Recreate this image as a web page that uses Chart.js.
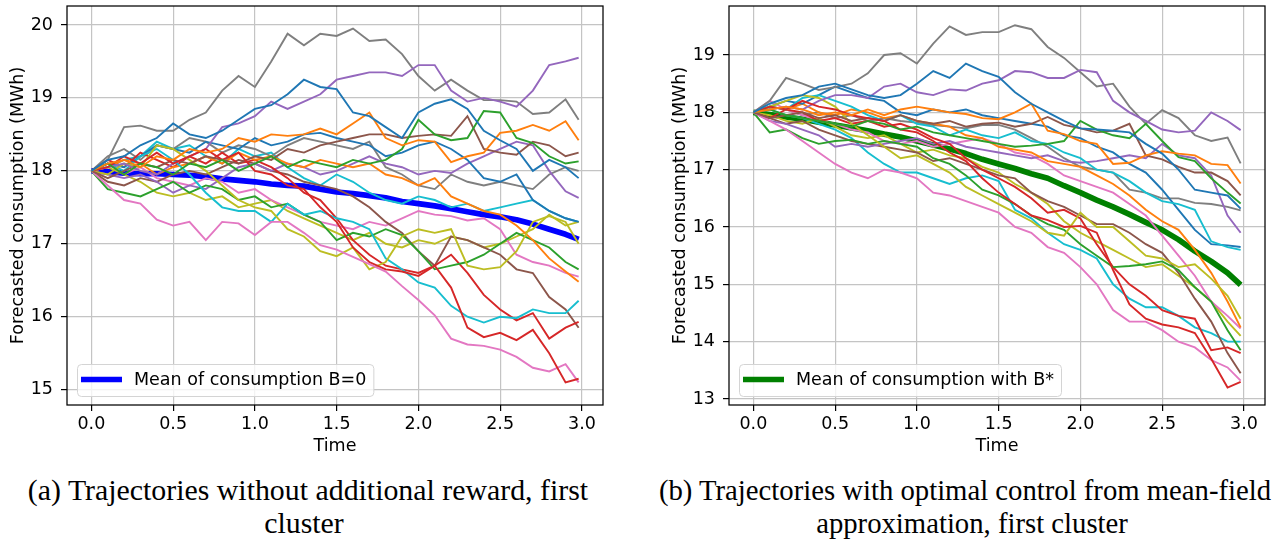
<!DOCTYPE html>
<html>
<head>
<meta charset="utf-8">
<script src="https://cdn.jsdelivr.net/npm/chart.js@4.4.1/dist/chart.umd.min.js"></script>
<style>
  html, body { margin: 0; padding: 0; background: #fff; }
  #page { position: relative; width: 1276px; height: 540px; overflow: hidden; }
  canvas { position: absolute; top: 0; }
  .cap { position: absolute; width: 900px; text-align: center; white-space: nowrap;
         font-family: "Liberation Serif", serif; color: #000; line-height: 1; }
</style>
</head>
<body>
<div id="page">
  <canvas id="left" width="620" height="460" style="left:0px"></canvas>
  <canvas id="right" width="620" height="460" style="left:662px"></canvas>
  <div class="cap" id="capA1">(a) Trajectories without additional reward, first</div>
  <div class="cap" id="capA2">cluster</div>
  <div class="cap" id="capB1">(b) Trajectories with optimal control from mean-field</div>
  <div class="cap" id="capB2">approximation, first cluster</div>
</div>
<script>
// time grid of the trajectories
const TIME = [0, 0.1, 0.2, 0.3, 0.4, 0.5, 0.6, 0.7, 0.8, 0.9, 1.0, 1.1, 1.2, 1.3, 1.4, 1.5,
  1.6, 1.7, 1.8, 1.9, 2.0, 2.1, 2.2, 2.3, 2.4, 2.5, 2.6, 2.7, 2.8, 2.9, 2.98];

const X_TICKS = [0, 0.5, 1, 1.5, 2, 2.5, 3];
const LEFT_Y_TICKS = [15, 16, 17, 18, 19, 20];
const RIGHT_Y_TICKS = [13, 14, 15, 16, 17, 18, 19];

// (a) without additional reward
const L_BLUE_1 = [18.0,18.15,18.2,18.35,18.45,18.65,18.5,18.45,18.55,18.7,18.85,18.9,19.05,19.25,19.15,19.12,18.8,18.75,18.6,18.45,18.8,18.92,18.98,18.85,18.55,18.42,18.3,18.0,18.15,18.05,17.9];
const L_ORANGE_1 = [18.0,18.1,18.15,18.05,18.2,18.15,18.3,18.25,18.3,18.45,18.4,18.5,18.48,18.5,18.58,18.5,18.65,18.8,18.45,18.35,18.42,18.4,18.12,18.2,18.25,18.52,18.55,18.63,18.55,18.68,18.42];
const L_GREEN_1 = [18.0,18.1,17.95,18.1,18.05,17.95,18.1,18.05,18.15,18.0,18.1,18.2,18.05,18.15,18.1,18.05,18.15,18.1,18.15,18.3,18.7,18.5,18.42,18.45,18.82,18.8,18.45,18.38,18.2,18.1,18.13];
const L_RED_1 = [18.0,18.05,18.2,18.1,18.25,18.1,18.2,18.3,18.15,18.25,18.0,17.95,17.8,17.75,17.5,17.3,16.95,16.75,16.65,16.62,16.56,16.7,16.4,15.85,15.72,15.78,15.68,15.82,15.5,15.1,15.15];
const L_PURPLE_1 = [18.0,18.05,18.1,18.0,17.95,18.1,18.2,18.3,18.6,18.65,18.75,18.95,18.85,18.95,19.05,19.25,19.3,19.35,19.35,19.3,19.45,19.45,19.1,18.95,19.0,18.95,18.88,19.1,19.45,19.5,19.55];
const L_BROWN_1 = [18.0,17.9,18.0,18.1,18.05,18.15,18.1,18.2,18.15,18.1,18.2,18.15,18.3,18.25,18.35,18.4,18.45,18.5,18.5,18.45,18.48,18.5,18.48,18.75,18.3,18.25,18.22,18.4,18.35,18.2,18.25];
const L_PINK_1 = [18.0,17.8,17.6,17.55,17.33,17.25,17.3,17.05,17.3,17.28,17.12,17.3,17.3,17.15,16.98,16.92,16.82,16.72,16.62,16.42,16.23,16.02,15.7,15.62,15.6,15.55,15.45,15.3,15.25,15.35,15.1];
const L_GRAY_1 = [18.0,18.15,18.6,18.62,18.55,18.55,18.7,18.8,19.1,19.3,19.15,19.5,19.88,19.72,19.88,19.85,19.95,19.78,19.8,19.6,19.3,19.1,19.25,19.1,18.97,18.97,18.95,18.78,18.8,18.98,18.7];
const L_OLIVE_1 = [18.0,17.95,18.1,18.05,18.35,18.3,18.15,18.0,17.8,17.6,17.5,17.45,17.2,17.1,16.9,16.83,16.95,16.65,16.75,17.1,17.2,17.15,17.2,16.7,16.65,16.68,16.9,17.3,17.38,17.3,17.0];
const L_CYAN_1 = [18.0,18.1,18.0,18.2,18.3,18.15,17.95,17.7,17.5,17.45,17.45,17.3,17.55,17.4,17.45,17.35,17.3,17.2,16.8,16.65,16.47,16.4,16.15,16.0,15.92,16.0,15.98,16.1,16.05,16.05,16.22];
const L_BLUE_2 = [18.0,18.1,18.05,18.2,18.35,18.3,18.25,18.4,18.35,18.3,18.45,18.35,18.4,18.5,18.52,18.45,18.4,18.35,18.2,18.25,18.35,18.4,18.3,18.15,17.9,17.85,17.95,17.6,17.45,17.35,17.3];
const L_ORANGE_2 = [18.0,18.05,18.15,18.1,17.95,18.05,18.1,18.2,18.1,18.25,18.15,18.2,18.1,18.05,18.15,18.1,18.05,18.1,17.95,17.9,17.8,17.9,17.65,17.55,17.45,17.4,17.25,17.05,16.8,16.62,16.48];
const L_GREEN_2 = [18.0,17.75,17.7,17.65,17.75,17.85,17.7,17.8,17.75,17.6,17.65,17.5,17.55,17.4,17.3,17.05,17.15,17.1,17.2,17.12,16.9,16.65,16.7,16.75,16.85,17.0,17.15,17.05,16.95,16.75,16.65];
const L_RED_2 = [18.0,18.15,18.05,18.25,18.15,18.05,18.2,18.1,18.25,18.1,18.15,18.05,17.9,17.7,17.6,17.35,17.05,16.85,16.7,16.65,16.6,16.7,16.85,16.6,16.3,16.1,15.95,16.05,15.7,15.85,15.93];
const L_PURPLE_2 = [18.0,17.95,17.9,17.95,17.85,17.7,17.8,17.75,17.9,18.05,18.1,18.0,18.1,18.05,17.95,18.0,18.1,18.2,18.1,18.05,17.95,18.0,17.97,18.1,18.2,18.3,18.4,18.35,18.0,17.72,17.63];
const L_BROWN_2 = [18.0,17.85,17.8,17.9,17.85,17.95,18.0,17.95,18.05,18.15,18.1,18.0,17.95,17.85,17.8,17.75,17.65,17.5,17.3,17.15,16.9,16.7,17.1,17.05,16.95,16.85,16.65,16.6,16.27,16.1,15.85];
const L_PINK_2 = [18.0,18.1,17.95,18.05,17.9,17.85,17.8,17.9,17.85,17.7,17.75,17.6,17.5,17.4,17.3,17.25,17.2,17.3,17.25,17.35,17.45,17.4,17.38,17.32,17.35,17.2,16.85,16.75,16.7,16.6,16.55];
const L_GRAY_2 = [18.0,18.2,18.3,18.15,18.35,18.3,18.45,18.4,18.25,18.35,18.3,18.2,18.35,18.45,18.4,18.35,18.3,18.4,18.05,17.95,17.8,17.75,17.95,17.85,17.8,17.85,17.8,17.75,17.95,18.05,18.0];
const L_OLIVE_2 = [18.0,18.05,17.95,17.85,17.7,17.65,17.7,17.6,17.65,17.5,17.55,17.6,17.45,17.35,17.25,17.15,17.05,17.15,17.0,16.95,17.05,17.0,17.1,17.05,16.95,17.0,17.1,17.2,17.4,17.25,17.3];
const L_CYAN_2 = [18.0,18.05,18.15,18.2,18.4,18.3,18.35,18.2,18.1,18.3,18.2,18.25,18.05,17.9,17.8,17.95,17.85,17.7,17.6,17.55,17.65,17.6,17.5,17.55,17.45,17.5,17.55,17.6,17.45,17.35,17.3];
const L_MEAN = [18.0,17.99,17.97,17.96,17.96,17.95,17.94,17.92,17.89,17.87,17.85,17.82,17.8,17.79,17.75,17.71,17.69,17.66,17.63,17.58,17.55,17.52,17.48,17.44,17.4,17.37,17.33,17.27,17.2,17.13,17.06];

// (b) with optimal control
const R_BLUE_1 = [18.0,18.15,18.25,18.3,18.45,18.5,18.4,18.3,18.25,18.3,18.5,18.72,18.6,18.85,18.72,18.62,18.35,18.15,18.0,17.85,17.72,17.7,17.68,17.65,17.45,17.28,17.0,16.65,16.6,16.55,16.32];
const R_ORANGE_1 = [18.0,18.05,18.1,18.05,17.95,18.0,17.95,18.05,17.95,18.05,18.1,18.05,18.0,17.97,17.9,17.88,18.0,18.15,17.68,17.62,17.5,17.45,17.1,17.12,17.25,17.32,17.28,17.25,17.1,17.08,16.76];
const R_GREEN_1 = [18.0,18.05,17.95,17.9,17.85,17.8,17.75,17.85,17.8,17.7,17.75,17.65,17.6,17.55,17.5,17.45,17.4,17.42,17.45,17.5,17.85,17.7,17.6,17.55,17.8,17.5,17.22,17.15,16.85,16.6,16.41];
const R_RED_1 = [18.0,18.1,18.05,18.2,18.1,18.05,17.95,17.9,17.85,17.7,17.65,17.5,17.3,17.15,16.85,16.6,16.4,16.2,16.12,16.0,16.02,15.9,15.25,14.65,14.4,14.3,14.25,14.15,13.7,13.2,13.3];
const R_PURPLE_1 = [18.0,18.05,18.1,18.05,18.2,18.3,18.3,18.25,18.45,18.5,18.35,18.3,18.4,18.38,18.5,18.56,18.72,18.7,18.6,18.6,18.74,18.7,18.2,18.0,17.85,17.7,17.65,17.68,18.0,17.85,17.69];
const R_BROWN_1 = [18.0,17.9,17.95,18.0,17.9,17.95,17.85,17.9,17.85,17.95,17.85,17.8,17.85,17.75,17.8,17.82,17.75,17.8,17.92,17.78,17.72,17.65,17.68,17.8,17.25,17.18,17.05,16.95,16.95,16.8,16.55];
const R_PINK_1 = [18.0,17.85,17.7,17.5,17.3,17.1,16.95,16.85,17.0,16.95,16.85,16.6,16.55,16.45,16.35,16.25,16.0,15.9,15.65,15.55,15.3,15.0,14.55,14.35,14.35,14.2,14.0,13.9,13.68,13.55,13.32];
const R_GRAY_1 = [18.0,18.2,18.6,18.5,18.39,18.44,18.5,18.68,19.0,19.03,18.85,19.2,19.5,19.35,19.4,19.4,19.52,19.45,19.14,18.95,18.7,18.45,18.5,18.1,17.8,18.04,17.9,17.6,17.5,17.56,17.11];
const R_OLIVE_1 = [18.0,18.1,18.2,18.3,18.25,18.1,17.8,17.6,17.4,17.2,17.25,17.1,16.95,16.7,16.55,16.4,16.25,16.1,15.9,15.85,16.25,16.0,16.0,15.75,15.5,15.45,15.3,15.35,15.1,14.8,14.4];
const R_CYAN_1 = [18.0,18.1,18.05,18.25,18.3,18.2,18.1,17.95,17.85,17.95,17.8,17.75,17.6,17.7,17.6,17.55,17.65,17.5,17.45,17.3,17.2,17.0,16.95,16.8,16.6,16.45,16.4,16.3,15.75,15.65,15.6];
const R_BLUE_2 = [18.0,18.1,18.2,18.15,18.3,18.45,18.35,18.25,18.2,18.0,17.95,18.05,18.0,18.05,17.95,17.9,17.85,17.8,17.75,17.6,17.55,17.4,17.3,17.1,16.95,16.65,16.3,15.95,15.7,15.68,15.65];
const R_ORANGE_2 = [18.0,18.1,18.05,18.15,18.0,17.95,18.05,18.0,17.9,17.95,17.85,17.8,17.75,17.6,17.55,17.4,17.35,17.3,17.15,17.1,17.05,16.9,16.75,16.55,16.3,16.1,15.95,15.6,15.2,14.7,14.25];
const R_GREEN_2 = [18.0,17.65,17.7,17.55,17.45,17.5,17.52,17.45,17.5,17.45,17.4,17.2,17.1,16.9,16.65,16.55,16.4,16.2,16.05,15.95,15.7,15.5,15.3,15.32,15.35,15.4,15.25,14.95,14.7,14.2,13.85];
const R_RED_2 = [18.0,17.9,18.05,18.0,17.85,17.9,17.8,17.85,17.75,17.8,17.7,17.55,17.45,17.2,17.0,16.85,16.7,16.5,16.25,16.3,16.15,15.7,15.3,15.0,14.8,14.55,14.45,14.4,13.85,13.9,13.8];
const R_PURPLE_2 = [18.0,17.85,17.8,17.7,17.6,17.4,17.45,17.4,17.45,17.5,17.55,17.45,17.5,17.4,17.35,17.3,17.25,17.2,17.25,17.15,17.12,17.15,17.2,17.25,17.2,17.45,17.25,17.2,16.9,16.2,15.9];
const R_BROWN_2 = [18.0,17.9,17.8,17.85,17.7,17.6,17.5,17.45,17.4,17.35,17.3,17.15,17.2,17.1,17.0,16.9,16.85,16.6,16.45,16.35,16.2,16.05,16.05,15.9,15.7,15.55,15.2,14.75,14.35,13.8,13.45];
const R_PINK_2 = [18.0,18.2,18.05,17.95,17.85,17.8,17.7,17.65,17.5,17.45,17.5,17.4,17.45,17.5,17.55,17.45,17.3,17.25,17.1,16.9,16.8,16.7,16.6,16.4,16.2,15.85,15.5,15.15,14.7,14.45,14.23];
const R_GRAY_2 = [18.0,18.1,18.05,17.95,18.0,17.9,17.95,17.85,17.9,17.85,17.82,17.78,17.75,17.72,17.78,17.78,17.7,17.55,17.4,17.2,17.05,17.0,16.95,16.65,16.6,16.5,16.5,16.42,16.4,16.35,16.29];
const R_OLIVE_2 = [18.0,17.95,17.85,17.8,17.9,17.75,17.6,17.55,17.6,17.45,17.3,17.35,17.25,17.2,17.05,16.95,16.75,16.6,16.4,16.1,15.9,15.75,15.6,15.45,15.3,15.35,15.15,14.95,14.7,14.35,14.1];
const R_CYAN_2 = [18.0,18.05,17.95,17.9,17.8,17.7,17.55,17.3,17.1,16.95,16.95,16.85,16.75,16.85,16.9,16.8,16.3,16.15,15.9,15.7,15.6,15.45,15.0,14.75,14.6,14.6,14.45,14.25,14.15,14.0,14.0];
const R_MEAN = [18.0,17.96,17.92,17.88,17.83,17.78,17.73,17.68,17.62,17.57,17.5,17.43,17.36,17.28,17.18,17.1,17.02,16.93,16.85,16.72,16.6,16.47,16.35,16.22,16.08,15.95,15.78,15.58,15.4,15.2,14.99];

const LEFT_PATHS = [L_BLUE_1, L_ORANGE_1, L_GREEN_1, L_RED_1, L_PURPLE_1, L_BROWN_1, L_PINK_1, L_GRAY_1, L_OLIVE_1, L_CYAN_1,
  L_BLUE_2, L_ORANGE_2, L_GREEN_2, L_RED_2, L_PURPLE_2, L_BROWN_2, L_PINK_2, L_GRAY_2, L_OLIVE_2, L_CYAN_2];
const RIGHT_PATHS = [R_BLUE_1, R_ORANGE_1, R_GREEN_1, R_RED_1, R_PURPLE_1, R_BROWN_1, R_PINK_1, R_GRAY_1, R_OLIVE_1, R_CYAN_1,
  R_BLUE_2, R_ORANGE_2, R_GREEN_2, R_RED_2, R_PURPLE_2, R_BROWN_2, R_PINK_2, R_GRAY_2, R_OLIVE_2, R_CYAN_2];

// matplotlib default colour cycle
const TAB10 = ["#1f77b4", "#ff7f0e", "#2ca02c", "#d62728", "#9467bd",
  "#8c564b", "#e377c2", "#7f7f7f", "#bcbd22", "#17becf"];
const FONT = "DejaVu Sans";
const FS = 17.5;
const MEAN_W = 5.7;

function toPoints(vals) {
  return TIME.map((t, i) => ({ x: t, y: vals[i] }));
}

// black frame around the axes + legend box in the lower left corner
const frameAndLegend = {
  id: "frameAndLegend",
  afterDraw(chart, args, opts) {
    const ctx = chart.ctx;
    const a = chart.chartArea;
    ctx.save();
    ctx.font = FS + "px \"" + FONT + "\"";
    const tw = ctx.measureText(opts.text).width;
    const bx = a.left + 10, by = a.bottom - 41, bh = 32, bw = 57 + tw + 7;
    ctx.beginPath();
    ctx.roundRect(bx + 0.5, by + 0.5, bw, bh, 4);
    ctx.fillStyle = "rgba(255,255,255,0.8)";
    ctx.fill();
    ctx.strokeStyle = "#d4d4d4";
    ctx.lineWidth = 1;
    ctx.stroke();
    ctx.beginPath();
    ctx.moveTo(bx + 4, by + 15.5);
    ctx.lineTo(bx + 45, by + 15.5);
    ctx.strokeStyle = opts.color;
    ctx.lineWidth = MEAN_W;
    ctx.stroke();
    ctx.fillStyle = "#000";
    ctx.textBaseline = "middle";
    ctx.fillText(opts.text, bx + 57, by + 16.5);
    ctx.strokeStyle = "#000";
    ctx.lineWidth = 1.25;
    ctx.strokeRect(a.left, a.top, a.right - a.left, a.bottom - a.top);
    ctx.restore();
  }
};

function makeChart(id, paths, mean, meanColor, yMin, yMax, yTicks, legendText) {
  const datasets = paths.map((p, i) => ({
    data: toPoints(p),
    borderColor: TAB10[i % 10],
    borderWidth: 1.9,
    pointRadius: 0,
    fill: false
  }));
  datasets.push({
    data: toPoints(mean),
    borderColor: meanColor,
    borderWidth: MEAN_W,
    borderJoinStyle: "round",
    pointRadius: 0,
    fill: false
  });
  const tickFont = { family: FONT, size: FS };
  return new Chart(document.getElementById(id), {
    type: "line",
    data: { datasets },
    options: {
      responsive: false,
      animation: false,
      devicePixelRatio: 1,
      layout: { padding: { top: 6, right: 17, bottom: 0, left: 0 } },
      elements: { line: { tension: 0 } },
      plugins: {
        legend: { display: false },
        tooltip: { enabled: false },
        frameAndLegend: { text: legendText, color: meanColor }
      },
      scales: {
        x: {
          type: "linear",
          min: -0.149,
          max: 3.129,
          afterBuildTicks: s => { s.ticks = X_TICKS.map(v => ({ value: v })); },
          afterFit: s => { s.height = 55; s.paddingLeft = 0; s.paddingRight = 0; },
          ticks: { callback: v => v.toFixed(1), color: "#000", font: tickFont, padding: 3,
                   maxRotation: 0, autoSkip: false },
          grid: { color: "#c4c4c4", lineWidth: 1.2, tickColor: "#000", tickLength: 6, tickWidth: 1.2 },
          border: { display: false },
          title: { display: true, text: "Time", color: "#000", font: tickFont,
                   padding: { top: 0, bottom: 3 } }
        },
        y: {
          min: yMin,
          max: yMax,
          afterBuildTicks: s => { s.ticks = yTicks.map(v => ({ value: v })); },
          afterFit: s => { s.width = 67; s.paddingTop = 0; s.paddingBottom = 0; },
          ticks: { color: "#000", font: tickFont, padding: 8, autoSkip: false },
          grid: { color: "#c4c4c4", lineWidth: 1.2, tickColor: "#000", tickLength: 6, tickWidth: 1.2 },
          border: { display: false },
          title: { display: true, text: "Forecasted consumption (MWh)", color: "#000", font: tickFont,
                   padding: { top: 8, bottom: 0 } }
        }
      }
    },
    plugins: [frameAndLegend]
  });
}

makeChart("left", LEFT_PATHS, L_MEAN, "#0000ff", 14.79, 20.26, LEFT_Y_TICKS, "Mean of consumption B=0");
makeChart("right", RIGHT_PATHS, R_MEAN, "#008000", 12.895, 19.855, RIGHT_Y_TICKS, "Mean of consumption with B*");

// captions: fit first line to the measured width, place both lines by their centres
function placeCaption(id1, id2, center1, center2, width) {
  const c = document.createElement("canvas").getContext("2d");
  c.font = "100px \"Liberation Serif\"";
  const el1 = document.getElementById(id1), el2 = document.getElementById(id2);
  const size = 100 * width / c.measureText(el1.textContent).width;
  [[el1, center1, 500], [el2, center2, 533]].forEach(([el, cx, base]) => {
    el.style.fontSize = size + "px";
    el.style.left = (cx - 450) + "px";
    el.style.top = (base - 0.8375 * size) + "px";
  });
}
placeCaption("capA1", "capA2", 308, 304, 561);
placeCaption("capB1", "capB2", 965, 972, 613);
</script>
</body>
</html>
